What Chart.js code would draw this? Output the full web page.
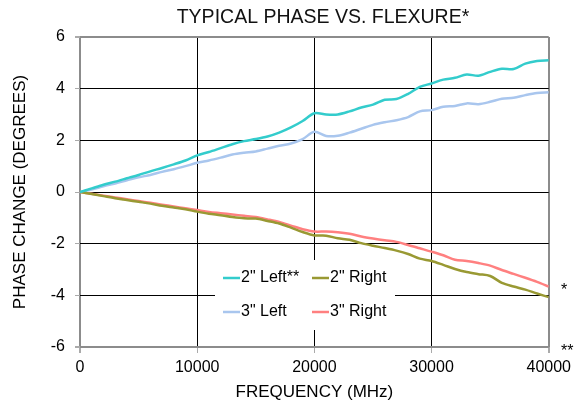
<!DOCTYPE html>
<html>
<head>
<meta charset="utf-8">
<style>
  html, body { margin: 0; padding: 0; background: #fff; }
  #wrap { width: 576px; height: 403px; }
</style>
</head>
<body>
<div id="wrap"><canvas id="phaseChart"></canvas></div>
<script src="https://cdn.jsdelivr.net/npm/chart.js"></script>
<script>
// frequency points (MHz)
const freqs = [0, 1000, 2000, 3000, 4000, 5000, 6000, 7000, 8000, 9000,
  10000, 11000, 12000, 13000, 14000, 15000, 16000, 17000, 18000, 19000,
  20000, 21000, 22000, 23000, 24000, 25000, 26000, 27000, 28000, 29000,
  30000, 31000, 32000, 33000, 34000, 35000, 36000, 37000, 38000, 39000, 40000];

const left2 = [0, 0.14, 0.28, 0.4, 0.53, 0.66, 0.8, 0.93, 1.07, 1.22,
  1.42, 1.55, 1.7, 1.85, 1.97, 2.05, 2.15, 2.3, 2.5, 2.75,
  3.05, 3.0, 3.0, 3.12, 3.27, 3.38, 3.57, 3.6, 3.8, 4.07,
  4.2, 4.35, 4.42, 4.55, 4.5, 4.65, 4.77, 4.76, 4.97, 5.07, 5.1];

const left3 = [0, 0.1, 0.22, 0.33, 0.45, 0.57, 0.66, 0.78, 0.88, 1.0,
  1.13, 1.22, 1.33, 1.45, 1.52, 1.57, 1.68, 1.79, 1.88, 2.05,
  2.33, 2.17, 2.18, 2.3, 2.45, 2.6, 2.7, 2.78, 2.9, 3.12,
  3.17, 3.3, 3.33, 3.43, 3.4, 3.49, 3.61, 3.65, 3.75, 3.83, 3.86];

const right2 = [0, -0.08, -0.16, -0.24, -0.31, -0.38, -0.45, -0.53, -0.6, -0.67,
  -0.76, -0.84, -0.9, -0.97, -1.02, -1.03, -1.12, -1.22, -1.38, -1.55,
  -1.68, -1.69, -1.79, -1.85, -1.98, -2.08, -2.17, -2.27, -2.4, -2.58,
  -2.67, -2.82, -2.98, -3.1, -3.18, -3.25, -3.52, -3.66, -3.78, -3.93, -4.07];

const right3 = [0, -0.07, -0.14, -0.21, -0.28, -0.35, -0.42, -0.49, -0.56, -0.63,
  -0.7, -0.77, -0.82, -0.87, -0.92, -0.97, -1.06, -1.16, -1.3, -1.44,
  -1.53, -1.53, -1.56, -1.62, -1.72, -1.8, -1.87, -1.93, -2.05, -2.18,
  -2.31, -2.45, -2.62, -2.67, -2.75, -2.85, -3.02, -3.17, -3.32, -3.48, -3.66];

const seriesNames = ['2" Left**', '2" Right', '3" Left', '3" Right'];
const seriesColors = ['#33cccc', '#999933', '#a9c6ee', '#ff8080'];
const seriesData = [left2, right2, left3, right3];

const FONT = '"Liberation Sans", Arial, sans-serif';

function toPoints(values) {
  return freqs.map((f, i) => ({ x: f, y: values[i] }));
}

// legend box inside the plot, title and footnote marks
const extras = {
  id: 'extras',
  beforeDatasetsDraw(chart) {
    const ctx = chart.ctx;
    ctx.save();
    ctx.fillStyle = '#fff';
    ctx.fillRect(215, 260, 180, 70);
    ctx.font = '16px ' + FONT;
    ctx.textBaseline = 'middle';
    ctx.fillStyle = '#000';
    const cols = [223, 312];
    const rows = [278, 312];
    for (let i = 0; i < 4; i++) {
      const cx = cols[i % 2];
      const cy = rows[Math.floor(i / 2)];
      ctx.strokeStyle = seriesColors[i];
      ctx.lineWidth = 2.5;
      ctx.beginPath();
      ctx.moveTo(cx, cy);
      ctx.lineTo(cx + 17, cy);
      ctx.stroke();
      ctx.fillText(seriesNames[i], cx + 18, cy);
    }
    ctx.restore();
  },
  afterDraw(chart) {
    const ctx = chart.ctx;
    ctx.save();
    ctx.fillStyle = '#111';
    ctx.textBaseline = 'middle';
    ctx.textAlign = 'center';
    ctx.font = '19.5px ' + FONT;
    ctx.fillText('TYPICAL PHASE VS. FLEXURE*', 323, 18);
    ctx.textAlign = 'left';
    ctx.fillStyle = '#000';
    ctx.font = '16px ' + FONT;
    ctx.fillText('*', 561, 291);
    ctx.fillText('**', 561, 352);
    ctx.restore();
  }
};

const phaseChart = new Chart(document.getElementById('phaseChart'), {
  type: 'line',
  data: {
    datasets: seriesData.map((vals, i) => ({
      label: seriesNames[i],
      data: toPoints(vals),
      borderColor: seriesColors[i],
      backgroundColor: seriesColors[i],
      borderWidth: 2.5,
      pointRadius: 0,
      tension: 0.3,
      fill: false
    }))
  },
  options: {
    responsive: true,
    maintainAspectRatio: false,
    animation: false,
    layout: { padding: { left: 0, right: 23, top: 37, bottom: 0 } },
    plugins: {
      legend: { display: false },
      tooltip: { enabled: false },
      title: { display: false }
    },
    scales: {
      x: {
        type: 'linear',
        min: 0,
        max: 40000,
        afterFit: (s) => { s.height = 56; },
        ticks: {
          stepSize: 10000,
          color: '#000',
          font: { family: FONT, size: 16 },
          padding: 5,
          maxRotation: 0,
          callback: (v) => String(v)
        },
        grid: {
          color: (c) => (c.tick && (c.tick.value === 0 || c.tick.value === 40000)) ? '#8c8c8c' : '#000',
          lineWidth: (c) => (c.tick && (c.tick.value === 0 || c.tick.value === 40000)) ? 2 : 1,
          tickColor: '#aaa',
          tickLength: 6
        },
        border: { display: false },
        title: {
          display: true,
          text: 'FREQUENCY (MHz)',
          color: '#000',
          font: { family: FONT, size: 17 },
          padding: { top: 0, bottom: 0 }
        }
      },
      y: {
        min: -6,
        max: 6,
        afterFit: (s) => { s.width = 80; },
        ticks: {
          stepSize: 2,
          color: '#000',
          font: { family: FONT, size: 16 },
          padding: 10
        },
        grid: {
          color: (c) => (c.tick && (c.tick.value === 6 || c.tick.value === -6)) ? '#8c8c8c' : '#000',
          lineWidth: (c) => (c.tick && (c.tick.value === 6 || c.tick.value === -6)) ? 2 : 1,
          tickColor: '#aaa',
          tickLength: 5
        },
        border: { display: false },
        title: {
          display: true,
          text: 'PHASE CHANGE (DEGREES)',
          color: '#000',
          font: { family: FONT, size: 17 },
          padding: { top: 10, bottom: 0 }
        }
      }
    }
  },
  plugins: [extras]
});
</script>
</body>
</html>
